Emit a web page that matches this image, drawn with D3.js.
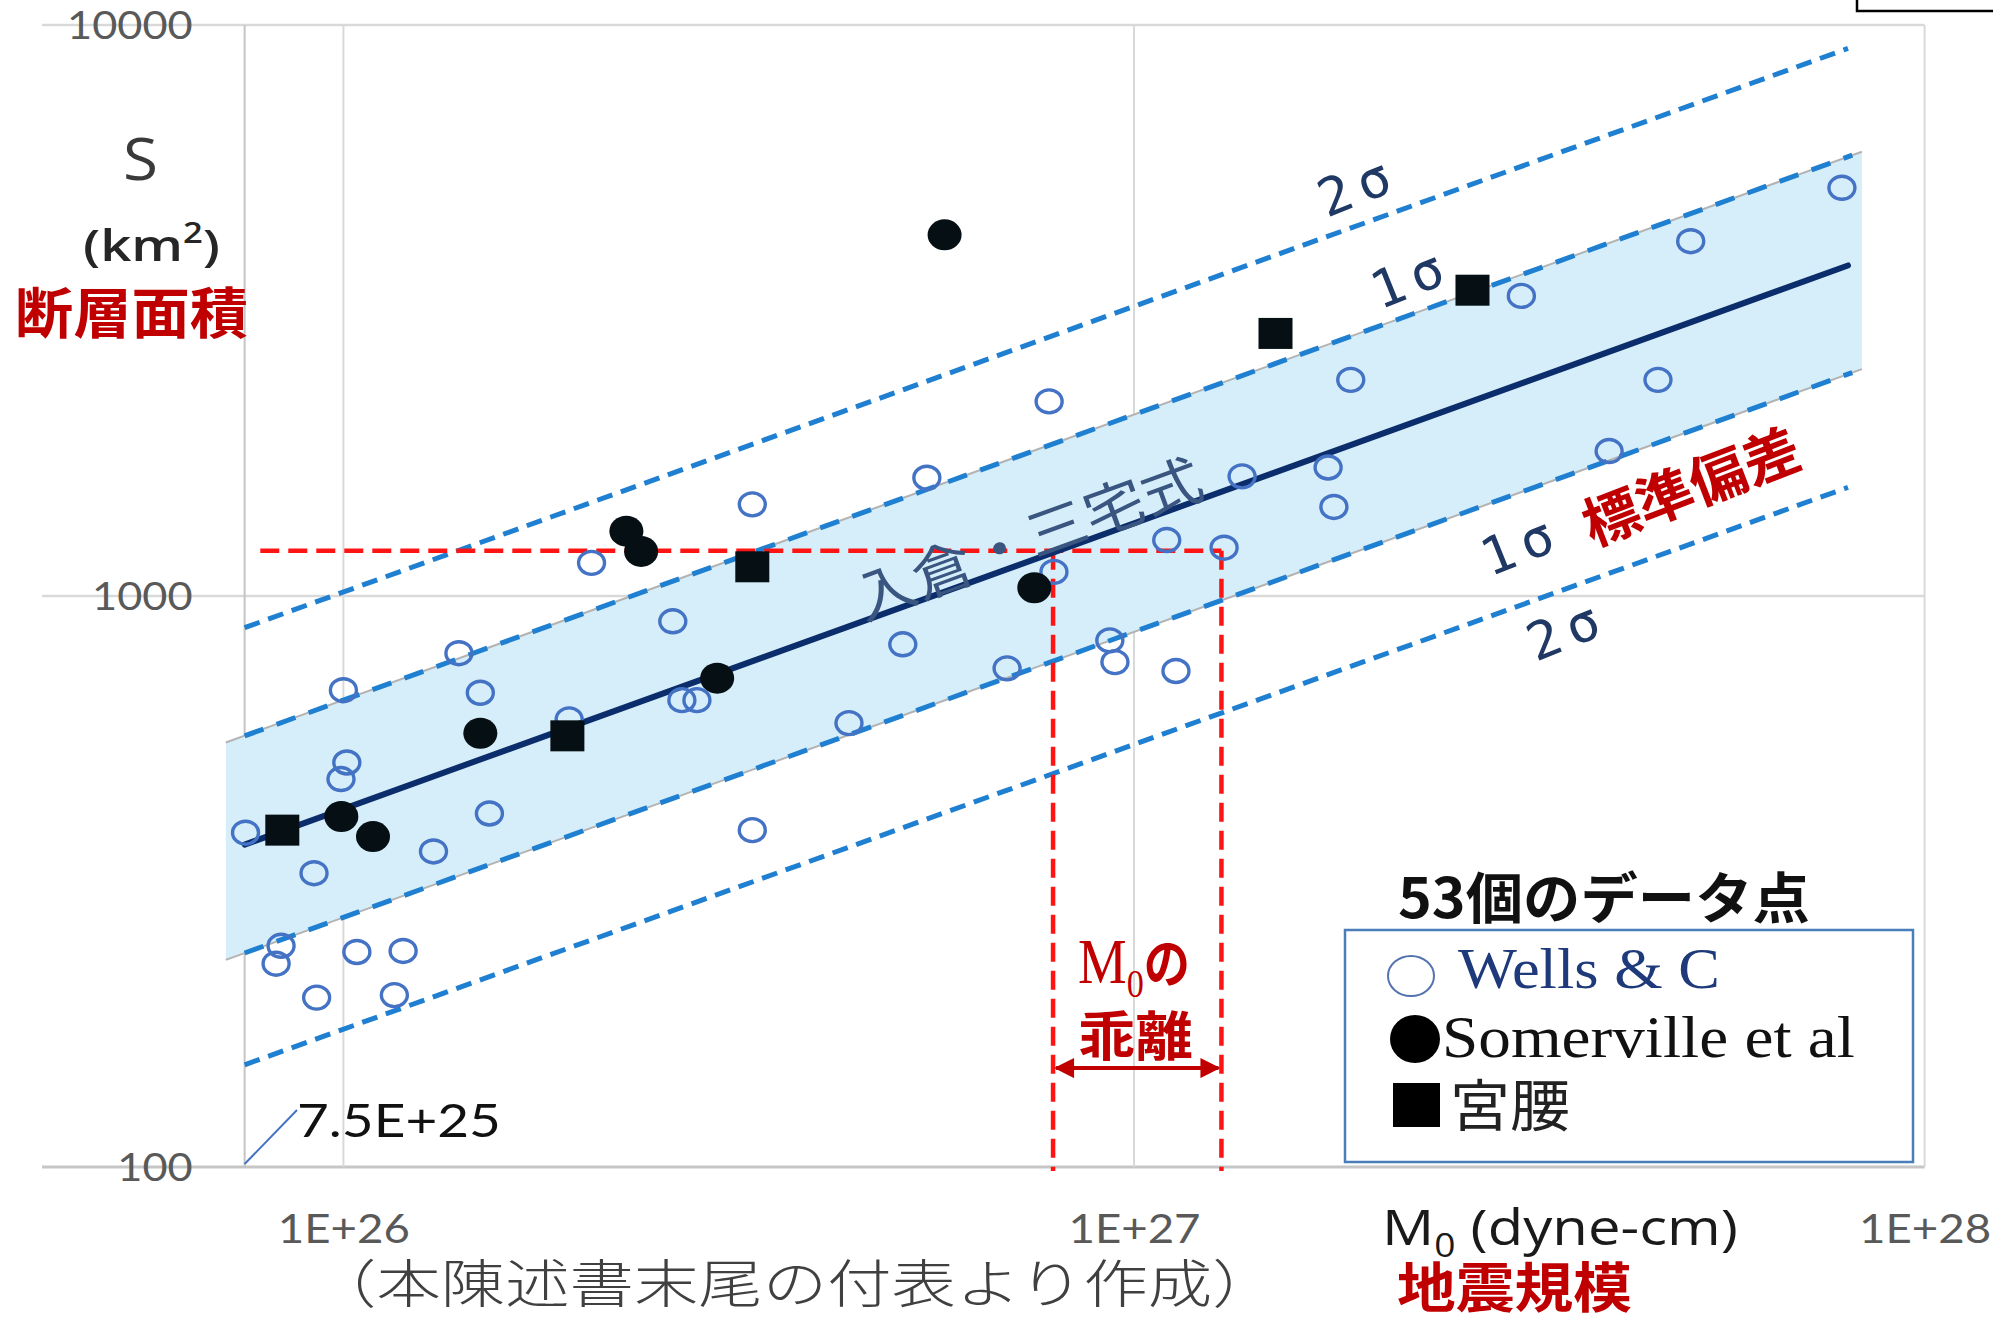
<!DOCTYPE html>
<html>
<head>
<meta charset="utf-8">
<script src="https://cdn.jsdelivr.net/npm/d3@7/dist/d3.min.js"></script>
<style>
  body { margin: 0; background: #fff; }
  svg { display: block; }
</style>
</head>
<body>
<svg id="chart" width="1993" height="1333"></svg>
<script>
// ---- axis ticks ----
const xTicks = [1e26, 1e27, 1e28];
const xTickLabels = ["1E+26", "1E+27", "1E+28"];
const xGridValues = [7.5e25, 1e26, 1e27, 1e28];
const yTicks = [100, 1000, 10000];
const yTickLabels = ["100", "1000", "10000"];

// ---- Wells & Coppersmith (open circles): M0 [dyne-cm], S [km2] ----
const wellsM0 = [7.52e25, 1.0e26, 1.01e26, 9.93e25, 9.18e25, 8.34e25, 8.22e25, 1.04e26, 1.19e26, 9.25e25,
                 1.16e26, 1.30e26, 1.40e26, 1.49e26, 1.53e26, 2.06e26, 2.61e26, 2.68e26, 2.80e26, 1.93e26,
                 3.29e26, 3.29e26, 4.36e26, 5.10e26, 5.47e26, 6.91e26, 7.81e26, 7.92e26, 9.32e26, 9.46e26,
                 1.13e27, 1.10e27, 1.30e27, 1.37e27, 1.76e27, 1.79e27, 1.88e27, 3.09e27, 3.99e27, 4.60e27,
                 5.06e27, 7.86e27];
const wellsS = [385, 684, 511, 478, 327, 244, 227, 238, 239, 198,
                200, 357, 794, 677, 416, 1143, 903, 657, 657, 608,
                1447, 389, 599, 823, 1611, 747, 2192, 1102, 836, 766,
                739, 1253, 1215, 1620, 1679, 1432, 2391, 3354, 1794, 2391,
                4182, 5187];

// ---- Somerville et al (filled circles) ----
const somervilleM0 = [9.94e25, 1.09e26, 1.49e26, 2.28e26, 2.38e26, 2.97e26, 5.76e26, 7.48e26];
const somervilleS = [411, 379, 575, 1299, 1197, 718, 4290, 1034];

// ---- 宮腰 (filled squares) ----
const miyakoshiM0 = [8.37e25, 1.92e26, 3.29e26, 1.51e27, 2.68e27];
const miyakoshiS = [389, 569, 1125, 2883, 3432];

// ---- 入倉・三宅式 and its scatter bands ----
const fitM0 = [7.5e25, 8.0e27];
const fitS = [367, 3792];
const bandM0 = [7.1e25, 8.33e27];
const bandUpperS = [554, 5998];
const bandLowerS = [230.5, 2497];
const sigma1M0 = [7.5e25, 8.1e27];
const sigma1UpperS = [569, 5915];
const sigma1LowerS = [237, 2462];
const sigma2M0 = [7.5e25, 8.0e27];
const sigma2UpperS = [880, 9100];
const sigma2LowerS = [151, 1550];

// ---- red guide lines (M0 deviation) ----
const guideS = 1200;
const guideStartM0 = 7.85e25;
const guideM0 = [7.9e26, 1.29e27];
const arrowS = 149;

// ---------------------------------------------------------------
const SANS = "'Open Sans', 'Noto Sans', 'Noto Sans CJK JP', sans-serif";
const TICK = "Lato, 'Open Sans', sans-serif";
const CJK = "'Noto Sans CJK JP', 'Noto Sans', sans-serif";
const SERIF = "'Liberation Serif', 'DejaVu Serif', serif";
const MONO = "'DejaVu Sans Mono', 'Liberation Mono', monospace";
const DARKRED = "#c00000";

const svg = d3.select("#chart");
svg.append("rect").attr("width", 1993).attr("height", 1333).attr("fill", "#fff");

const x = d3.scaleLog().domain([1e26, 1e28]).range([343.4, 1924.6]);
const y = d3.scaleLog().domain([100, 10000]).range([1167, 25]);

// ---- gridlines ----
const grid = svg.append("g");
grid.selectAll("line.h").data(yTicks).join("line")
  .attr("class", "h")
  .attr("x1", 42).attr("x2", x(1e28))
  .attr("y1", d => y(d)).attr("y2", d => y(d))
  .attr("stroke", d => d === 100 ? "#c6c6c6" : "#d9d9d9")
  .attr("stroke-width", d => d === 100 ? 3 : 2.5);
grid.selectAll("line.v").data(xGridValues).join("line")
  .attr("class", "v")
  .attr("x1", d => x(d)).attr("x2", d => x(d))
  .attr("y1", y(10000)).attr("y2", y(100))
  .attr("stroke", d => d === 7.5e25 ? "#c4c4c4" : "#d9d9d9")
  .attr("stroke-width", 2);

// ---- 1σ band ----
const bandData = bandM0.map((m, i) => ({ m, lo: bandLowerS[i], hi: bandUpperS[i] }));
svg.append("path").datum(bandData)
  .attr("d", d3.area().x(d => x(d.m)).y0(d => y(d.lo)).y1(d => y(d.hi)))
  .attr("fill", "#d6eef9");
const edgeLine = d3.line().x(d => x(d[0])).y(d => y(d[1]));
[bandUpperS, bandLowerS].forEach(s => {
  svg.append("path").datum(bandM0.map((m, i) => [m, s[i]]))
    .attr("d", edgeLine).attr("fill", "none")
    .attr("stroke", "#b3b3b3").attr("stroke-width", 2);
});

// ---- σ dashed lines ----
const SIGBLUE = "#1f7fd0";
[sigma1UpperS, sigma1LowerS].forEach(s => {
  svg.append("path").datum(sigma1M0.map((m, i) => [m, s[i]]))
    .attr("d", edgeLine).attr("fill", "none")
    .attr("stroke", SIGBLUE).attr("stroke-width", 5)
    .attr("stroke-dasharray", "20 14");
});
[sigma2UpperS, sigma2LowerS].forEach(s => {
  svg.append("path").datum(sigma2M0.map((m, i) => [m, s[i]]))
    .attr("d", edgeLine).attr("fill", "none")
    .attr("stroke", SIGBLUE).attr("stroke-width", 5)
    .attr("stroke-dasharray", "16 9");
});

// ---- red guide lines ----
const RED = "#ff1414";
const guides = svg.append("g").attr("stroke", RED).attr("stroke-width", 4.5)
  .attr("stroke-dasharray", "19 9").attr("fill", "none");
guides.append("line")
  .attr("x1", x(guideStartM0)).attr("x2", x(guideM0[1]))
  .attr("y1", y(guideS)).attr("y2", y(guideS));
guides.selectAll("line.vg").data(guideM0).join("line")
  .attr("class", "vg")
  .attr("x1", d => x(d)).attr("x2", d => x(d))
  .attr("y1", y(guideS)).attr("y2", y(100) + 4);

// ---- 入倉・三宅式 regression line ----
svg.append("path").datum(fitM0.map((m, i) => [m, fitS[i]]))
  .attr("d", edgeLine).attr("fill", "none")
  .attr("stroke", "#0c2d6b").attr("stroke-width", 6).attr("stroke-linecap", "round");

// ---- markers ----
const wells = wellsM0.map((m, i) => ({ m, s: wellsS[i] }));
const somerville = somervilleM0.map((m, i) => ({ m, s: somervilleS[i] }));
const miyakoshi = miyakoshiM0.map((m, i) => ({ m, s: miyakoshiS[i] }));

svg.append("g").selectAll("ellipse").data(wells).join("ellipse")
  .attr("cx", d => x(d.m)).attr("cy", d => y(d.s))
  .attr("rx", 13).attr("ry", 11.5)
  .attr("fill", "none").attr("stroke", "#4472c4").attr("stroke-width", 3.4);

svg.append("g").selectAll("ellipse").data(somerville).join("ellipse")
  .attr("cx", d => x(d.m)).attr("cy", d => y(d.s))
  .attr("rx", 17).attr("ry", 15.5)
  .attr("fill", "#050f14");

svg.append("g").selectAll("rect").data(miyakoshi).join("rect")
  .attr("x", d => x(d.m) - 17).attr("y", d => y(d.s) - 15.5)
  .attr("width", 34).attr("height", 31)
  .attr("fill", "#050f14");

// ---- axes (tick labels) ----
const yAxis = d3.axisLeft(y).tickValues(yTicks)
  .tickFormat((d, i) => yTickLabels[i]).tickSize(0).tickPadding(52);
const gy = svg.append("g").attr("transform", `translate(${x(7.5e25)},0)`).call(yAxis);
gy.select(".domain").remove();
gy.selectAll("text")
  .attr("font-family", TICK).attr("font-size", 38).attr("fill", "#595959")
  .attr("dy", "0.36em");

const xAxis = d3.axisBottom(x).tickValues(xTicks)
  .tickFormat((d, i) => xTickLabels[i]).tickSize(0);
const gx = svg.append("g").attr("transform", `translate(0,${y(100)})`).call(xAxis);
gx.select(".domain").remove();
gx.selectAll("text")
  .attr("font-family", TICK).attr("font-size", 40).attr("fill", "#595959")
  .attr("y", 76).attr("dy", null);

// widen tick labels a little (the lettering is broad)
[gy, gx].forEach(g => g.selectAll("text").each(function () {
  const w = this.getComputedTextLength();
  d3.select(this).attr("textLength", w * 1.14).attr("lengthAdjust", "spacingAndGlyphs");
}));

// ---- text helper: fits a label to a width, optional rotation about its centre ----
function placeText(o) {
  const g = svg.append("g");
  const t = g.append("text")
    .attr("font-family", o.family || SANS)
    .attr("font-size", o.size)
    .attr("font-weight", o.weight || 400)
    .attr("fill", o.fill || "#000");
  if (o.ls) t.attr("letter-spacing", o.ls);
  const parts = o.parts || [{ t: o.text }];
  let shifted = 0;
  parts.forEach(p => {
    const ts = t.append("tspan").text(p.t);
    if (p.family) ts.attr("font-family", p.family);
    if (p.size) ts.attr("font-size", p.size);
    if (p.weight) ts.attr("font-weight", p.weight);
    const want = p.shift || 0;
    if (want !== shifted) { ts.attr("dy", want - shifted); shifted = want; }
  });
  const bb = t.node().getBBox();
  const sx = o.w ? o.w / bb.width : 1;
  if (o.rotate !== undefined) {
    t.attr("transform", `translate(${-(bb.x + bb.width / 2)},${-(bb.y + bb.height / 2)})`);
    g.attr("transform", `translate(${o.cx},${o.cy}) rotate(${o.rotate}) scale(${sx},1)`);
  } else {
    g.attr("transform", `translate(${o.x - bb.x * sx},${o.y}) scale(${sx},1)`);
  }
  return g;
}

// ---- y-axis title ----
placeText({ text: "S", x: 123, y: 180, w: 35, size: 58, fill: "#3a3a3a" });
placeText({ parts: [{ t: "(km" }, { t: "2", size: 28, shift: -18 }, { t: ")" }],
  x: 83, y: 261, w: 137, size: 44, weight: 600, fill: "#262626" });
placeText({ text: "断層面積", x: 15, y: 333, w: 233, size: 55, weight: 700, family: CJK, fill: DARKRED });

// ---- x-axis title & note ----
placeText({ parts: [{ t: "M" }, { t: "0", size: 32, shift: 12 }, { t: " (dyne-cm)" }],
  x: 1382, y: 1245, w: 356, size: 50, fill: "#1a1a1a" });
placeText({ text: "地震規模", x: 1397, y: 1308, w: 235, size: 54, weight: 700, family: CJK, fill: DARKRED });
placeText({ text: "（本陳述書末尾の付表より作成）", x: 312, y: 1303, w: 965, size: 52, weight: 300,
  family: CJK, fill: "#404040" });

// ---- 7.5E+25 call-out ----
svg.append("line")
  .attr("x1", x(7.5e25)).attr("y1", y(100) - 3)
  .attr("x2", 297).attr("y2", 1110)
  .attr("stroke", "#4472c4").attr("stroke-width", 2);
placeText({ text: "7.5E+25", x: 297, y: 1137, w: 204, size: 47, family: TICK, fill: "#111" });

// ---- σ labels ----
const SIGTXT = "#1f3864";
[["2σ", 1358, 186], ["1σ", 1411, 278], ["1σ", 1521, 545], ["2σ", 1567, 630]].forEach(([s, cx, cy]) => {
  placeText({ text: s, cx, cy, rotate: -22, w: 82, size: 52, family: MONO, fill: SIGTXT, ls: 8 });
});
placeText({ text: "標準偏差", cx: 1690, cy: 483, rotate: -21, w: 228, size: 56, weight: 700,
  family: CJK, fill: DARKRED });
placeText({ text: "入倉・三宅式", cx: 1027, cy: 535, rotate: -20, w: 365, size: 56,
  family: CJK, fill: "#3a5580" });

// ---- M0 deviation annotation ----
placeText({ parts: [{ t: "M", family: SERIF, size: 64 }, { t: "0", family: SERIF, size: 40, shift: 14 },
  { t: "の", family: CJK, size: 54, weight: 700 }],
  x: 1078, y: 983, w: 112, size: 60, fill: DARKRED });
placeText({ text: "乖離", x: 1078, y: 1056, w: 115, size: 54, weight: 700, family: CJK, fill: DARKRED });

const defs = svg.append("defs");
defs.append("marker").attr("id", "ah")
  .attr("viewBox", "0 0 10 10").attr("refX", 9).attr("refY", 5)
  .attr("markerWidth", 6).attr("markerHeight", 5).attr("markerUnits", "strokeWidth")
  .attr("orient", "auto-start-reverse")
  .append("path").attr("d", "M0,0 L10,5 L0,10 Z").attr("fill", DARKRED);
svg.append("line")
  .attr("x1", x(guideM0[0]) + 3).attr("x2", x(guideM0[1]) - 3)
  .attr("y1", y(arrowS)).attr("y2", y(arrowS))
  .attr("stroke", DARKRED).attr("stroke-width", 4)
  .attr("marker-start", "url(#ah)").attr("marker-end", "url(#ah)");

// ---- legend ----
placeText({ text: "53個のデータ点", x: 1398, y: 918, w: 412, size: 55, weight: 700, family: CJK, fill: "#111" });
svg.append("rect")
  .attr("x", 1345).attr("y", 930).attr("width", 568).attr("height", 232)
  .attr("fill", "#fff").attr("stroke", "#4a7ebb").attr("stroke-width", 2.5);
svg.append("ellipse").attr("cx", 1411).attr("cy", 976).attr("rx", 23).attr("ry", 20)
  .attr("fill", "none").attr("stroke", "#5572b0").attr("stroke-width", 2);
placeText({ text: "Wells & C", x: 1458, y: 988, w: 262, size: 56, family: SERIF, fill: "#1f3a7a" });
svg.append("ellipse").attr("cx", 1415).attr("cy", 1039).attr("rx", 25).attr("ry", 24).attr("fill", "#000");
placeText({ text: "Somerville et al", x: 1442, y: 1057, w: 413, size: 60, family: SERIF, fill: "#111" });
svg.append("rect").attr("x", 1393).attr("y", 1083).attr("width", 47).attr("height", 44).attr("fill", "#000");
placeText({ text: "宮腰", x: 1450, y: 1126, w: 120, size: 56, family: CJK, fill: "#222" });

// ---- frame fragment at the top right ----
svg.append("path").attr("d", "M1857,-2 V11 H1995")
  .attr("fill", "none").attr("stroke", "#000").attr("stroke-width", 2.5);
</script>
</body>
</html>
